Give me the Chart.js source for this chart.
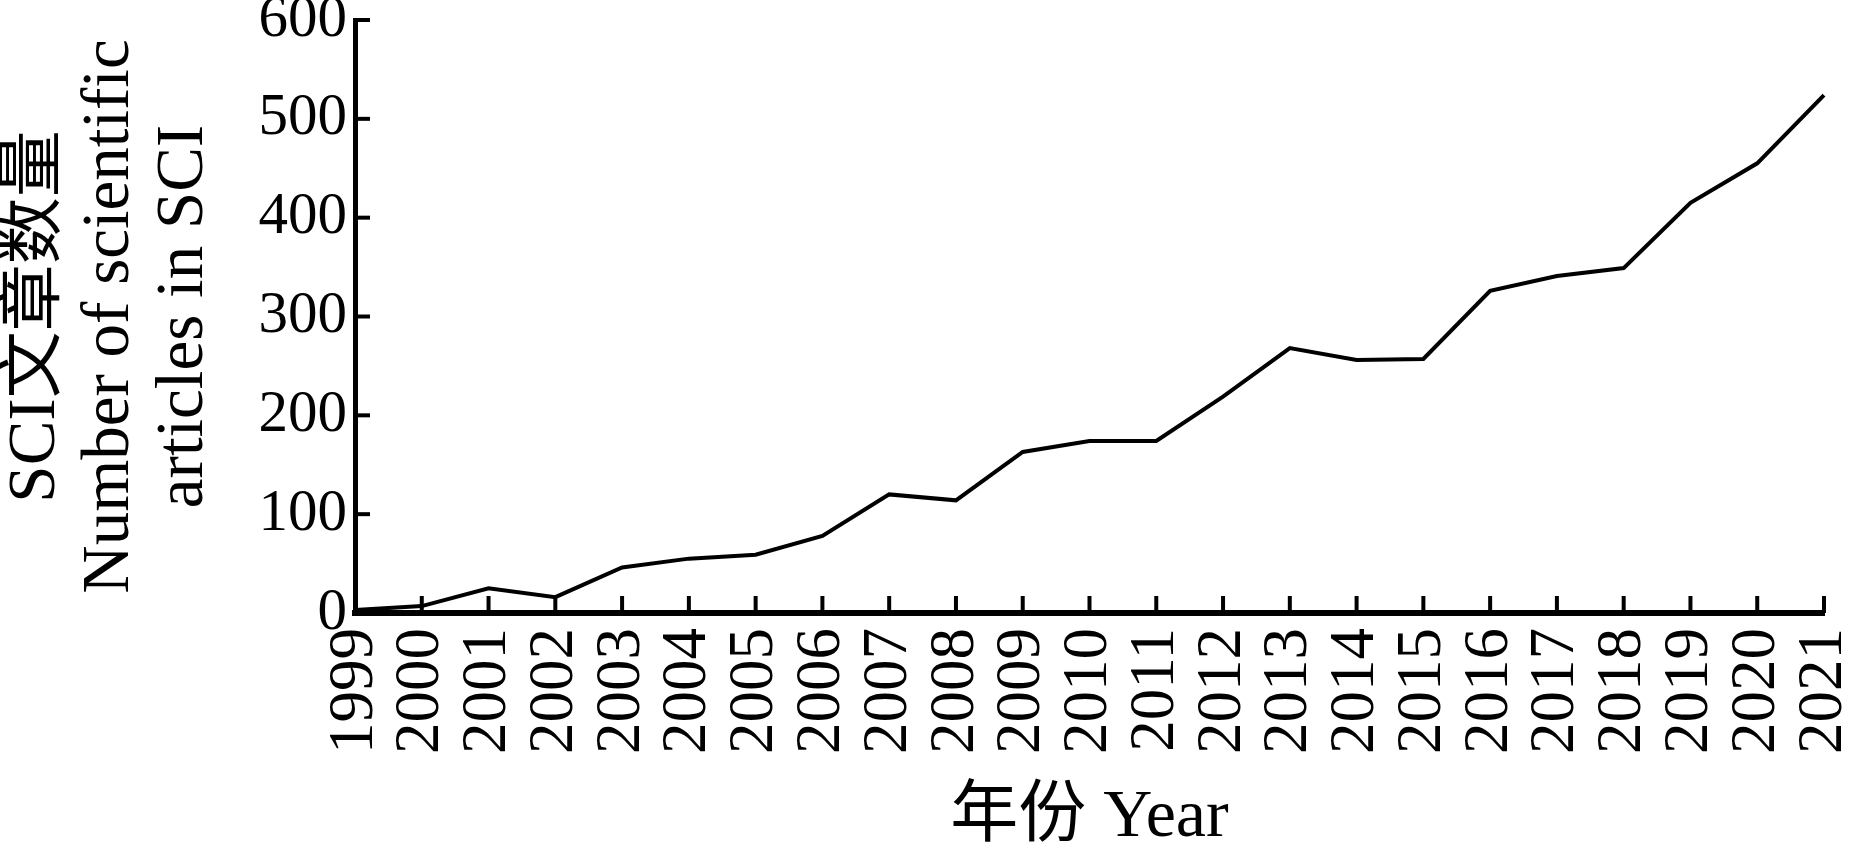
<!DOCTYPE html>
<html>
<head>
<meta charset="utf-8">
<script src="https://cdn.jsdelivr.net/npm/chart.js@4"></script>
<style>
  body { margin: 0; background: #fff; }
  #wrap { width: 1849px; height: 852px; }
</style>
</head>
<body>
<div id="wrap"><canvas id="graficoSci" width="1849" height="852"></canvas></div>
<script>
// Dados
const anos = ["1999", "2000", "2001", "2002", "2003", "2004", "2005", "2006", "2007", "2008", "2009",
  "2010", "2011", "2012", "2013", "2014", "2015", "2016", "2017", "2018", "2019", "2020", "2021"]
const artigosSci = [3, 7, 25, 16, 46, 55, 59, 78, 120, 114, 163,
  174, 174, 219, 268, 256, 257, 326, 341, 349, 415, 455, 524]
const ticksY = [0, 100, 200, 300, 400, 500, 600]

const tituloY = ["SCI文章数量", "Number of scientific", "articles in SCI"]
const tituloX = "年份 Year"

const fonte = '"Liberation Serif", "Times New Roman", "Noto Sans CJK SC", serif'

// Ticks para dentro do gráfico (o Chart.js desenha para fora por padrão)
const ticksInternos = {
  id: "ticksInternos",
  afterDatasetsDraw(chart) {
    const c = chart.ctx
    const x = chart.scales.x
    const y = chart.scales.y
    const area = chart.chartArea
    c.save()
    c.strokeStyle = "#000"
    c.lineWidth = 4
    for (let i = 0; i < anos.length; i++) {
      const px = x.getPixelForValue(i)
      c.beginPath()
      c.moveTo(px, area.bottom)
      c.lineTo(px, area.bottom - 17)
      c.stroke()
    }
    ticksY.forEach((v) => {
      const py = y.getPixelForValue(v)
      c.beginPath()
      c.moveTo(area.left, py)
      c.lineTo(area.left + 15, py)
      c.stroke()
    })
    c.restore()
  },
}

const ctx = document.getElementById("graficoSci").getContext("2d")

new Chart(ctx, {
  type: "line",
  data: {
    labels: anos,
    datasets: [
      {
        label: "SCI",
        data: artigosSci,
        borderColor: "#000",
        borderWidth: 4,
        pointRadius: 0,
        tension: 0,
        fill: false,
      },
    ],
  },
  options: {
    responsive: false,
    animation: false,
    layout: { padding: { top: 20, right: 25, left: 0, bottom: 0 } },
    plugins: {
      legend: { display: false },
      tooltip: { enabled: false },
    },
    scales: {
      x: {
        grid: { display: false, drawTicks: false },
        border: { display: true, color: "#000", width: 6 },
        ticks: {
          autoSkip: false,
          minRotation: 90,
          maxRotation: 90,
          padding: 15,
          color: "#000",
          font: { family: fonte, size: 63 },
        },
        title: {
          display: true,
          text: tituloX,
          color: "#000",
          padding: { top: 0, bottom: 0 },
          font: { family: fonte, size: 68, lineHeight: 1.0 },
        },
        afterFit(scale) {
          scale.height = 239
          scale.paddingLeft = 0
          scale.paddingRight = 0
        },
      },
      y: {
        min: 0,
        max: 600,
        afterBuildTicks(scale) {
          scale.ticks = ticksY.map((v) => ({ value: v }))
        },
        grid: { display: false, drawTicks: false },
        border: { display: true, color: "#000", width: 5 },
        ticks: {
          padding: 8,
          color: "#000",
          font: { family: fonte, size: 59 },
        },
        title: {
          display: true,
          text: tituloY,
          color: "#000",
          padding: { top: 0, bottom: 0 },
          font: { family: fonte, size: 67, lineHeight: 1.1 },
        },
        afterFit(scale) {
          scale.width = 355
          scale.paddingTop = 0
          scale.paddingBottom = 0
        },
      },
    },
  },
  plugins: [ticksInternos],
})
</script>
</body>
</html>
